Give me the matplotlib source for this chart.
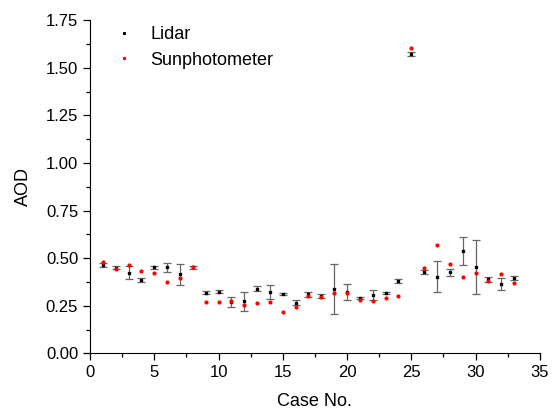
import numpy as np
import matplotlib
matplotlib.use("Agg")
import matplotlib.pyplot as plt
from matplotlib.ticker import MultipleLocator

plt.rcParams['font.family'] = ['Liberation Sans', 'DejaVu Sans']

case_no = np.arange(1, 34)
lidar = [0.465, 0.449, 0.424, 0.386, 0.452, 0.452, 0.415, 0.452, 0.320, 0.325,
         0.272, 0.273, 0.340, 0.322, 0.311, 0.267, 0.311, 0.301, 0.340, 0.322,
         0.290, 0.307, 0.316, 0.381, 1.572, 0.427, 0.403, 0.426, 0.539, 0.455,
         0.390, 0.365, 0.396]
lidar_err = [0.010, 0.008, 0.033, 0.012, 0.006, 0.024, 0.053, 0.006, 0.007, 0.007,
             0.026, 0.050, 0.012, 0.035, 0.005, 0.012, 0.013, 0.010, 0.131, 0.042,
             0.005, 0.028, 0.006, 0.012, 0.010, 0.010, 0.082, 0.018, 0.074, 0.143,
             0.013, 0.033, 0.009]
sunphoto = [0.480, 0.445, 0.463, 0.433, 0.423, 0.377, 0.394, 0.452, 0.272, 0.272,
            0.275, 0.257, 0.264, 0.270, 0.217, 0.246, 0.301, 0.299, 0.316, 0.316,
            0.280, 0.276, 0.290, 0.303, 1.605, 0.451, 0.568, 0.470, 0.400, 0.421,
            0.381, 0.418, 0.371]

fig = plt.figure(figsize=(5.52, 4.11), dpi=100)
ax = fig.add_axes([0.163, 0.14, 0.815, 0.811])

ax.errorbar(case_no, lidar, yerr=lidar_err, fmt='s', color='black', ms=1.6,
            ecolor='#666666', elinewidth=0.9, capsize=2.7, capthick=0.9,
            label='Lidar', zorder=3)
ax.plot(case_no, sunphoto, 'o', color='red', ms=2.0, label='Sunphotometer', zorder=4)

ax.set_xlim(0, 35)
ax.set_ylim(0, 1.75)
ax.xaxis.set_major_locator(MultipleLocator(5))
ax.xaxis.set_minor_locator(MultipleLocator(2.5))
ax.yaxis.set_major_locator(MultipleLocator(0.25))
ax.yaxis.set_minor_locator(MultipleLocator(0.125))
ax.yaxis.set_major_formatter(matplotlib.ticker.FormatStrFormatter('%.2f'))
ax.tick_params(which='major', direction='out', length=5, width=0.9, labelsize=12)
ax.tick_params(which='minor', direction='out', length=3, width=0.9)
ax.spines['top'].set_visible(False)
ax.spines['right'].set_visible(False)
ax.set_xlabel('Case No.', fontsize=13, labelpad=9)
ax.set_ylabel('AOD', fontsize=13, labelpad=10)

handles = [plt.Line2D([], [], ls='', marker='s', color='black', ms=1.2),
           plt.Line2D([], [], ls='', marker='o', color='red', ms=1.4)]
ax.legend(handles, ['Lidar', 'Sunphotometer'], loc='upper left', frameon=False,
          fontsize=13, bbox_to_anchor=(0.0, 1.03), handletextpad=0.45,
          labelspacing=0.45)

fig.savefig('out.png', dpi=100)
